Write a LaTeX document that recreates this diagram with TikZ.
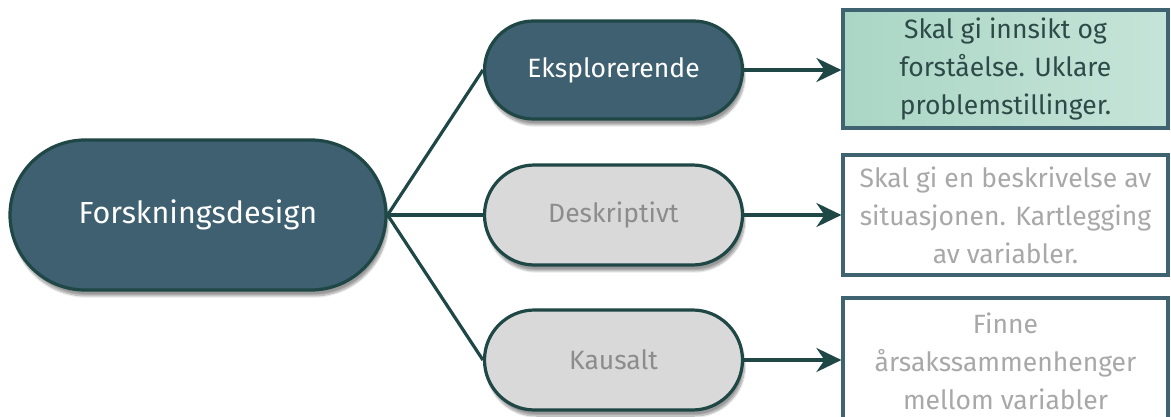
\documentclass[tikz,border=0pt]{standalone}
\usepackage{fontspec}
\setmainfont{Fira Sans}
\usetikzlibrary{shadows.blur,arrows.meta}
\definecolor{darkfill}{HTML}{3E6070}
\definecolor{edgecol}{HTML}{1E4746}
\definecolor{grayfill}{HTML}{D9D9D9}
\definecolor{graytext}{HTML}{8C8C8C}
\definecolor{boxedge}{HTML}{3F6371}
\definecolor{greenA}{HTML}{AAD6C5}
\definecolor{greenB}{HTML}{C6E4D9}
\definecolor{boxtext}{HTML}{2E4A48}
\definecolor{lighttext}{HTML}{A8A8A8}
\tikzset{
  pill/.style={draw=edgecol, line width=3.2pt, rounded corners=#1, inner sep=0pt,
    blur shadow={shadow xshift=2pt, shadow yshift=-6pt, shadow opacity=40, shadow blur steps=10},
    font=\fontsize{26.5}{30}\selectfont},
  darkpill/.style={pill=#1, fill=darkfill, text=white},
  graypill/.style={pill=#1, fill=grayfill, text=graytext},
  infobox/.style={draw=boxedge, line width=3.2pt, minimum width=325pt, inner sep=0pt,
    align=center, font=\fontsize{26.5}{38}\selectfont},
  link/.style={draw=edgecol, line width=3.2pt},
  pointer/.style={draw=edgecol, line width=3.2pt, -{Stealth[length=25pt,width=24pt]}}
}
\begin{document}
\begin{tikzpicture}[x=1pt,y=1pt]
\useasboundingbox (0,0) rectangle (1171,416);
\node[darkpill=75pt, minimum width=376pt, minimum height=150pt, font=\fontsize{30.5}{34}\selectfont] (root) at (198,201) {Forskningsdesign};
\node[darkpill=49pt, minimum width=258pt, minimum height=98pt] (eks) at (613.5,346) {Eksplorerende};
\node[graypill=50pt, minimum width=258pt, minimum height=100pt] (des) at (613.5,201) {Deskriptivt};
\node[graypill=50pt, minimum width=258pt, minimum height=100pt] (kau) at (613.5,56) {Kausalt};
\node[infobox, minimum height=118pt, left color=greenA, right color=greenB, text=boxtext] (b1) at (1005.5,347) {Skal gi innsikt og\\forståelse. Uklare\\problemstillinger.};
\node[infobox, minimum height=120pt, fill=white, text=lighttext] (b2) at (1005.5,201) {Skal gi en beskrivelse av\\situasjonen. Kartlegging\\av variabler.};
\node[infobox, minimum height=126pt, fill=white, text=lighttext] (b3) at (1005.5,55) {Finne\\årsakssammenhenger\\mellom variabler};
\draw[link] (root.east) -- (eks.west);
\draw[link] (root.east) -- (des.west);
\draw[link] (root.east) -- (kau.west);
\draw[pointer] (eks.east) -- (eks.east -| b1.west);
\draw[pointer] (des.east) -- (des.east -| b2.west);
\draw[pointer] (kau.east) -- (kau.east -| b3.west);
\end{tikzpicture}
\end{document}
